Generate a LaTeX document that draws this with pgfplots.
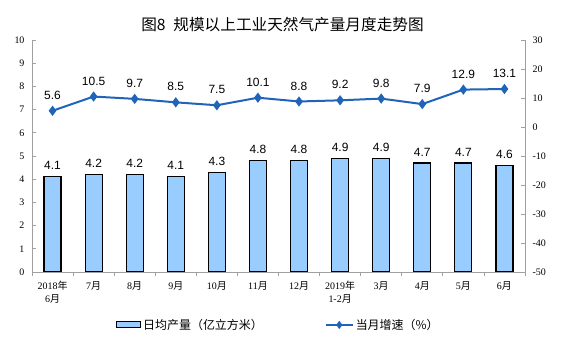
\documentclass[border=0pt]{standalone}
\usepackage{pgfplots}
\pgfplotsset{compat=1.18}
\usepackage{fontspec}
\setmainfont{Liberation Serif}
\newfontfamily\cjk{Noto Sans CJK SC}
\newfontfamily\arial{Liberation Sans}
\definecolor{barblue}{RGB}{153,204,255}
\definecolor{lineblue}{RGB}{31,100,184}
\definecolor{axisgray}{RGB}{160,160,160}

\pgfplotsset{
  common/.style={
    at={(0,0)}, anchor=south west,
    scale only axis, width=493bp, height=232bp,
    xmin=-0.5, xmax=11.5,
    /pgf/number format/assume math mode=true,
    axis line style={axisgray, line width=0.8bp},
    tick style={axisgray, line width=0.8bp},
    major tick length=4bp, minor tick length=4bp,
    tick align=inside,
    ticklabel style={font=\fontsize{10}{12}\selectfont},
  },
  linelegend/.style={legend image code/.code={\draw[mark repeat=2, mark phase=2, mark size=2.5bp, ##1] plot coordinates {(0bp,0bp) (13.5bp,0bp) (27bp,0bp)};}},
  barlegend/.style={legend image code/.code={\draw[fill=barblue, draw=black, line width=1.2bp] (0bp,-3bp) rectangle (24bp,3bp);}},
}

\begin{document}
\begin{tikzpicture}
\useasboundingbox (-32bp,-85bp) rectangle (529bp,272bp);
\begin{axis}[
  common,
  ymin=0, ymax=10, ytick={0,1,...,10},
  axis x line*=bottom, axis y line*=left,
  xtick={0,1,...,11},
  major x tick style={draw=none},
  minor xtick={-0.5,0.5,...,11.5},
  xticklabels={{2018{\cjk 年}\\6{\cjk 月}},7{\cjk 月},8{\cjk 月},9{\cjk 月},10{\cjk 月},11{\cjk 月},12{\cjk 月},{2019{\cjk 年}\\1-2{\cjk 月}},3{\cjk 月},4{\cjk 月},5{\cjk 月},6{\cjk 月}},
  xticklabel style={align=center, font=\fontsize{10}{13}\selectfont, yshift=-2bp},
  yticklabel style={xshift=-4bp},
  ybar, bar width=17bp,
  nodes near coords,
  nodes near coords style={font=\arial\fontsize{12}{14}\selectfont, yshift=3bp},
]
\addplot[fill=barblue, draw=black, line width=1.2bp] coordinates {
 (0,4.1) (1,4.2) (2,4.2) (3,4.1) (4,4.3) (5,4.8) (6,4.8) (7,4.9) (8,4.9) (9,4.7) (10,4.7) (11,4.6)};
\end{axis}
\begin{axis}[
  common,
  ymin=-50, ymax=30, ytick={-50,-40,...,30},
  axis y line*=right, axis x line=none,
  yticklabel style={xshift=4bp},
  legend columns=2,
  legend style={draw=none, fill=none, at={(0.164,-0.228)}, anchor=west,
    font=\cjk\fontsize{12}{14}\selectfont,
    /tikz/every even column/.append style={column sep=60bp}},
  legend cell align=left,
]
\addlegendimage{barlegend}
\addlegendentry{日均产量（亿立方米）}
\addplot[lineblue, line width=2bp, mark=diamond*, mark size=3.5bp,
  nodes near coords,
  nodes near coords style={font=\arial\fontsize{12}{14}\selectfont, black, yshift=7bp},
  linelegend
] coordinates {
 (0,5.6) (1,10.5) (2,9.7) (3,8.5) (4,7.5) (5,10.1) (6,8.8) (7,9.2) (8,9.8) (9,7.9) (10,12.9) (11,13.1)};
\addlegendentry{当月增速（\%）}
\end{axis}
\node[font=\cjk\fontsize{15.7}{18}\selectfont] at (250.5bp,247bp) {图8\hspace{0.5em}规模以上工业天然气产量月度走势图};
\end{tikzpicture}
\end{document}
